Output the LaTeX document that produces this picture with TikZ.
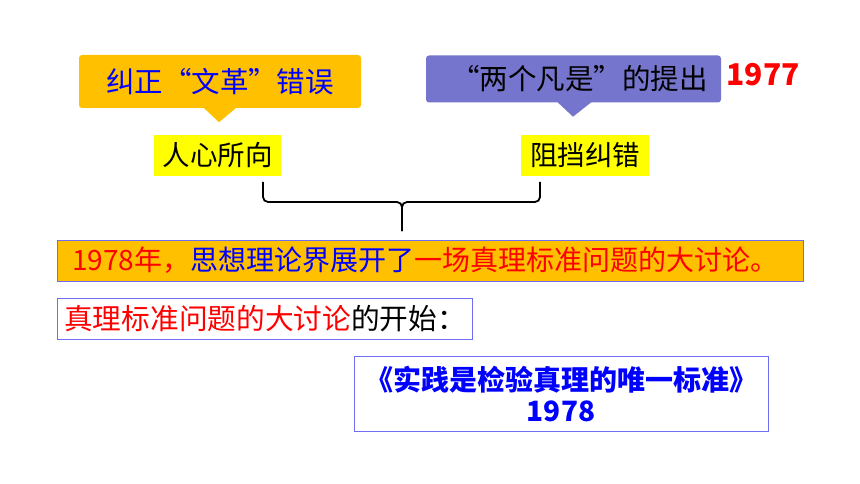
\documentclass[tikz,border=0pt]{standalone}
\usepackage{fontspec}
\setmainfont{Noto Sans CJK SC}
\definecolor{orangeC}{HTML}{FFC000}
\definecolor{purpleC}{HTML}{7575CD}
\definecolor{yellowC}{HTML}{FFFF00}
\definecolor{blueT}{HTML}{0000FF}
\definecolor{redT}{HTML}{FF0000}
\definecolor{edgeC}{HTML}{6E6EF2}
\begin{document}
\begin{tikzpicture}[x=1pt,y=-1pt,
  callout/.style={rounded corners=3pt, inner sep=0pt, font=\fontsize{28.5}{30}\selectfont},
  tag/.style={fill=yellowC, inner sep=0pt, minimum height=41pt, font=\fontsize{27.5}{30}\selectfont},
  framebox/.style={draw=edgeC, line width=0.9pt, inner sep=0pt},
  brace/.style={line width=1.8pt, rounded corners=5pt}]
\useasboundingbox (0,0) rectangle (860,484);
% orange callout
\node[callout, fill=orangeC, minimum width=282pt, minimum height=53pt, text=blueT] (ca) at (220,81.5) {纠正“文革”错误};
\fill[orangeC] ([xshift=-17pt,yshift=1pt]ca.south) -- ++(16,15) -- ++(18,-15) -- cycle;
% purple callout
\node[callout, fill=purpleC, minimum width=295pt, minimum height=47pt, text=black] (cb) at (573.5,79) {\hspace{12pt}“两个凡是”的提出};
\fill[purpleC] ([xshift=-16.5pt,yshift=1pt]cb.south) -- ++(16,15) -- ++(19,-15) -- cycle;
\node[text=redT, font=\fontsize{30}{32}\selectfont\bfseries] (y77) at (763,75) {1977};
% yellow tags
\node[tag, minimum width=127pt] (ta) at (217.5,155.5) {人心所向};
\node[tag, minimum width=128pt] (tb) at (585,155.5) {阻挡纠错};
% brace
\coordinate (bl) at (263,182);
\coordinate (br) at (540,182);
\coordinate (bm) at (402,202);
\coordinate (bs) at (402,231);
\draw[brace] (bl) -- (bl |- bm) -- (bm) -- (bs);
\draw[brace] (br) -- (br |- bm) -- (bm) -- (bs);
% bar
\node[framebox, fill=orangeC, minimum width=746pt, minimum height=41pt] (bar) at (430,260.5) {};
\node[anchor=west, inner sep=0pt, font=\fontsize{28}{30}\selectfont] (bart) at (72,260.5)
  {\textcolor{redT}{1978年，}\textcolor{blueT}{思想理论界展开了}\textcolor{redT}{一场真理标准问题的大讨论。}};
% second box
\node[framebox, minimum width=415pt, minimum height=41pt] (bx2) at (264.5,318.5) {};
\node[anchor=west, inner sep=0pt, font=\fontsize{28.7}{30}\selectfont] (bx2t) at (64,318.5)
  {\textcolor{redT}{真理标准问题的大讨论}的开始：};
% third box
\node[framebox, minimum width=414pt, minimum height=75pt] (bx3) at (561,393.5) {};
\node[text=blueT, inner sep=0pt, font=\fontsize{28}{32}\selectfont\bfseries, align=center] (bx3t) at (561,394)
  {《实践是检验真理的唯一标准》\\[-1pt]1978};
\end{tikzpicture}
\end{document}
